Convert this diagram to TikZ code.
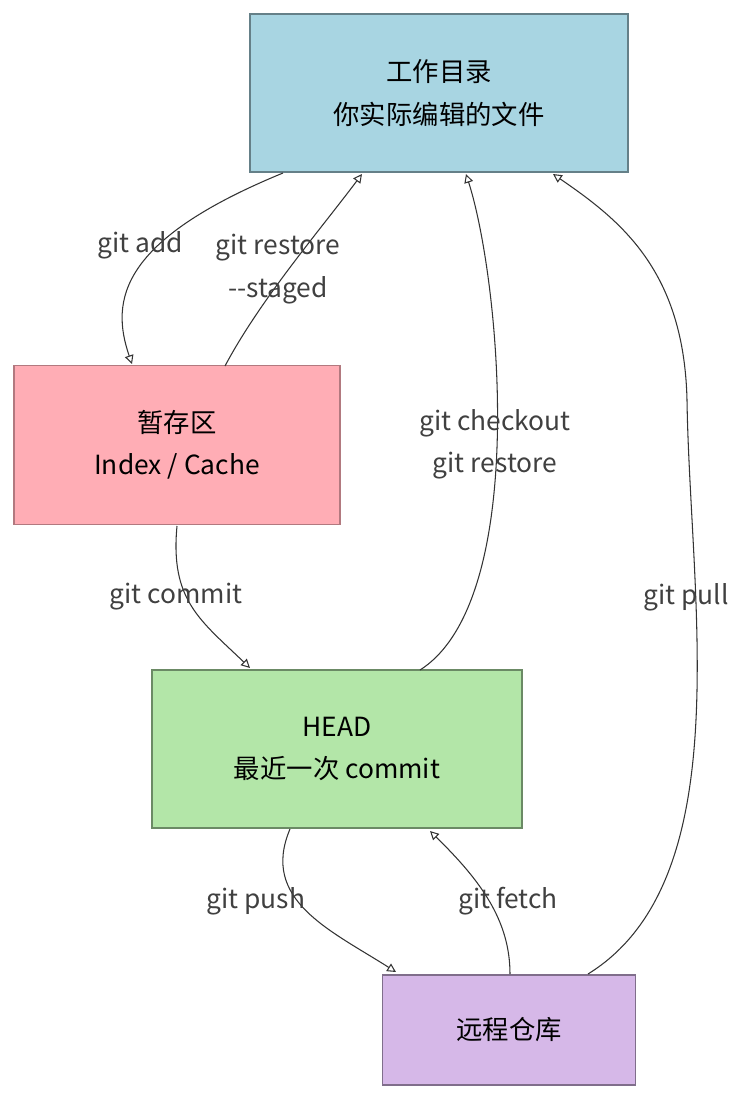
\documentclass[tikz,border=0pt]{standalone}
\usepackage{fontspec}
\setmainfont{Noto Sans CJK SC}
\usetikzlibrary{arrows.meta,patterns}
\definecolor{workc}{HTML}{A8D5E2}
\definecolor{stagec}{HTML}{FFADB5}
\definecolor{headc}{HTML}{B3E6A8}
\definecolor{remc}{HTML}{D6B8E8}
\tikzset{
  box/.style={draw, line width=0.8pt, align=center, font=\fontsize{15}{24}\selectfont, inner sep=0pt},
  flow/.style={draw=black!80, line width=0.6pt, -{Triangle[open,length=5pt,width=5pt]}},
  lbl/.style={font=\fontsize{15}{24}\selectfont, text=black!75, inner sep=1pt, align=center}
}
\begin{document}
\begin{tikzpicture}[x=0.02cm,y=-0.02cm]
  \useasboundingbox (0,0) rectangle (754,1110);
  % boxes
  \node[box, fill=workc, draw=workc!60!black, minimum width=378*0.02cm, minimum height=158*0.02cm] (work) at (439,93) {工作目录\\你实际编辑的文件};
  \node[box, fill=stagec, draw=stagec!70!black, minimum width=326*0.02cm, minimum height=159*0.02cm] (stage) at (177,445) {暂存区\\Index / Cache};
  \node[box, fill=headc, draw=headc!60!black, minimum width=370*0.02cm, minimum height=158*0.02cm] (head) at (337,749) {HEAD\\最近一次 commit};
  \node[box, fill=remc, draw=remc!60!black, minimum width=253*0.02cm, minimum height=110*0.02cm] (remote) at (509,1030) {远程仓库};
  % connectors
  \draw[flow] (283,173) .. controls (120,240) and (110,300) .. (132,364);
  \draw[flow] (225,366) .. controls (260,300) and (320,230) .. (362,174);
  \draw[flow] (177,526) .. controls (170,600) and (200,620) .. (250,668);
  \draw[flow] (420,670) .. controls (530,600) and (500,280) .. (466,174);
  \draw[flow] (290,829) .. controls (260,900) and (330,930) .. (396,972);
  \draw[flow] (510,974) .. controls (510,920) and (480,880) .. (430,831);
  \draw[flow] (588,974) .. controls (740,880) and (690,600) .. (687,400) .. controls (684,270) and (620,220) .. (553,174);
  % labels
  \node[lbl] (ladd) at (140,245) {git add};
  \node[lbl] (lrest) at (278,269) {git restore\\{-}{-}staged};
  \node[lbl] (lcom) at (176,597) {git commit};
  \node[lbl] (lchk) at (495,444) {git checkout\\git restore};
  \node[lbl] (lpush) at (256,901) {git push};
  \node[lbl] (lfet) at (508,901) {git fetch};
  \node[lbl] (lpull) at (686,597) {git pull};
\end{tikzpicture}
\end{document}
